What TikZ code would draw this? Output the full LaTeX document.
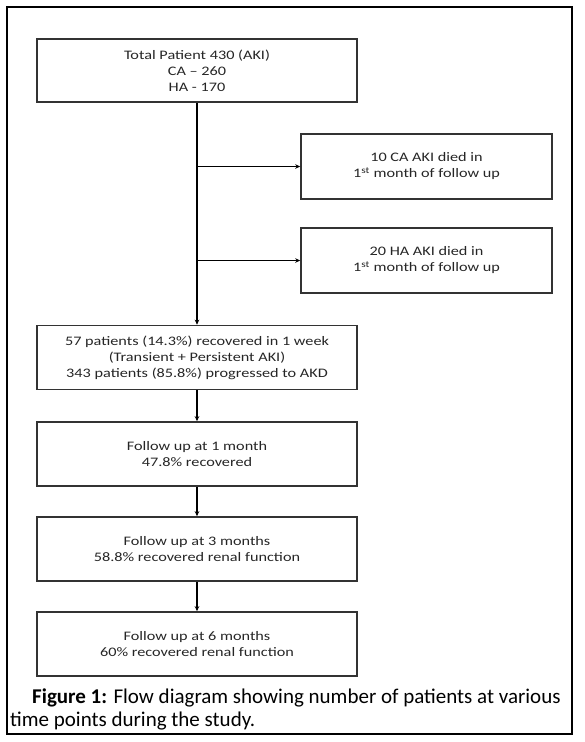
\documentclass[tikz,border=0pt]{standalone}
\usepackage{fontspec}
\setmainfont{Carlito}
\newfontfamily\boxfont[FakeStretch=1.25,Ligatures=TeX]{Carlito}
\usetikzlibrary{arrows.meta}

\tikzset{
  box/.style={draw=black!80, line width=1.6pt, align=center, inner sep=0pt,
    text=black!85, font=\boxfont\fontsize{13}{16}\selectfont},
  flow/.style={line width=1.6pt, -{Stealth[length=5pt,width=4.5pt]}},
  caption/.style={anchor=base west, inner sep=0pt, font=\fontsize{21}{23}\selectfont}
}

\begin{document}
\begin{tikzpicture}[x=1pt,y=-1pt]
  \useasboundingbox (0,0) rectangle (584,742);
  \def\cx{197} % centre of main column
  \def\rx{426.5} % centre of side column

  % outer frame
  \draw[line width=2.6pt] (7,7) rectangle (572,734);

  % main column
  \node[box, minimum width=320, minimum height=63] (total) at (\cx,70.5)
    {Total Patient 430 (AKI)\\CA – 260\\HA - 170};
  \node[box, minimum width=320, minimum height=64] (week) at (\cx,357.5)
    {57 patients (14.3\%) recovered in 1 week\\(Transient + Persistent AKI)\\343 patients (85.8\%) progressed to AKD};
  \node[box, minimum width=320, minimum height=64] (mone) at (\cx,454)
    {Follow up at 1 month\\47.8\% recovered};
  \node[box, minimum width=320, minimum height=64] (mthree) at (\cx,549)
    {Follow up at 3 months\\58.8\% recovered renal function};
  \node[box, minimum width=320, minimum height=64] (msix) at (\cx,644)
    {Follow up at 6 months\\60\% recovered renal function};

  % side column
  \node[box, minimum width=251, minimum height=65] (diedca) at (\rx,166.5)
    {10 CA AKI died in\\1\textsuperscript{st} month of follow up};
  \node[box, minimum width=251, minimum height=65] (diedha) at (\rx,260.5)
    {20 HA AKI died in\\1\textsuperscript{st} month of follow up};

  % connectors
  \draw[flow] (total) -- (week);
  \foreach \n in {diedca,diedha}
    {\draw[flow] (\n.west -| total.south) -- (\n.west);}
  \draw[flow] (week) -- (mone);
  \draw[flow] (mone) -- (mthree);
  \draw[flow] (mthree) -- (msix);

  % caption
  \node[caption] (capa) at (32,703)
    {\textbf{Figure 1:} Flow diagram showing number of patients at various};
  \node[caption] (capb) at (10,726) {time points during the study.};
\end{tikzpicture}
\end{document}
